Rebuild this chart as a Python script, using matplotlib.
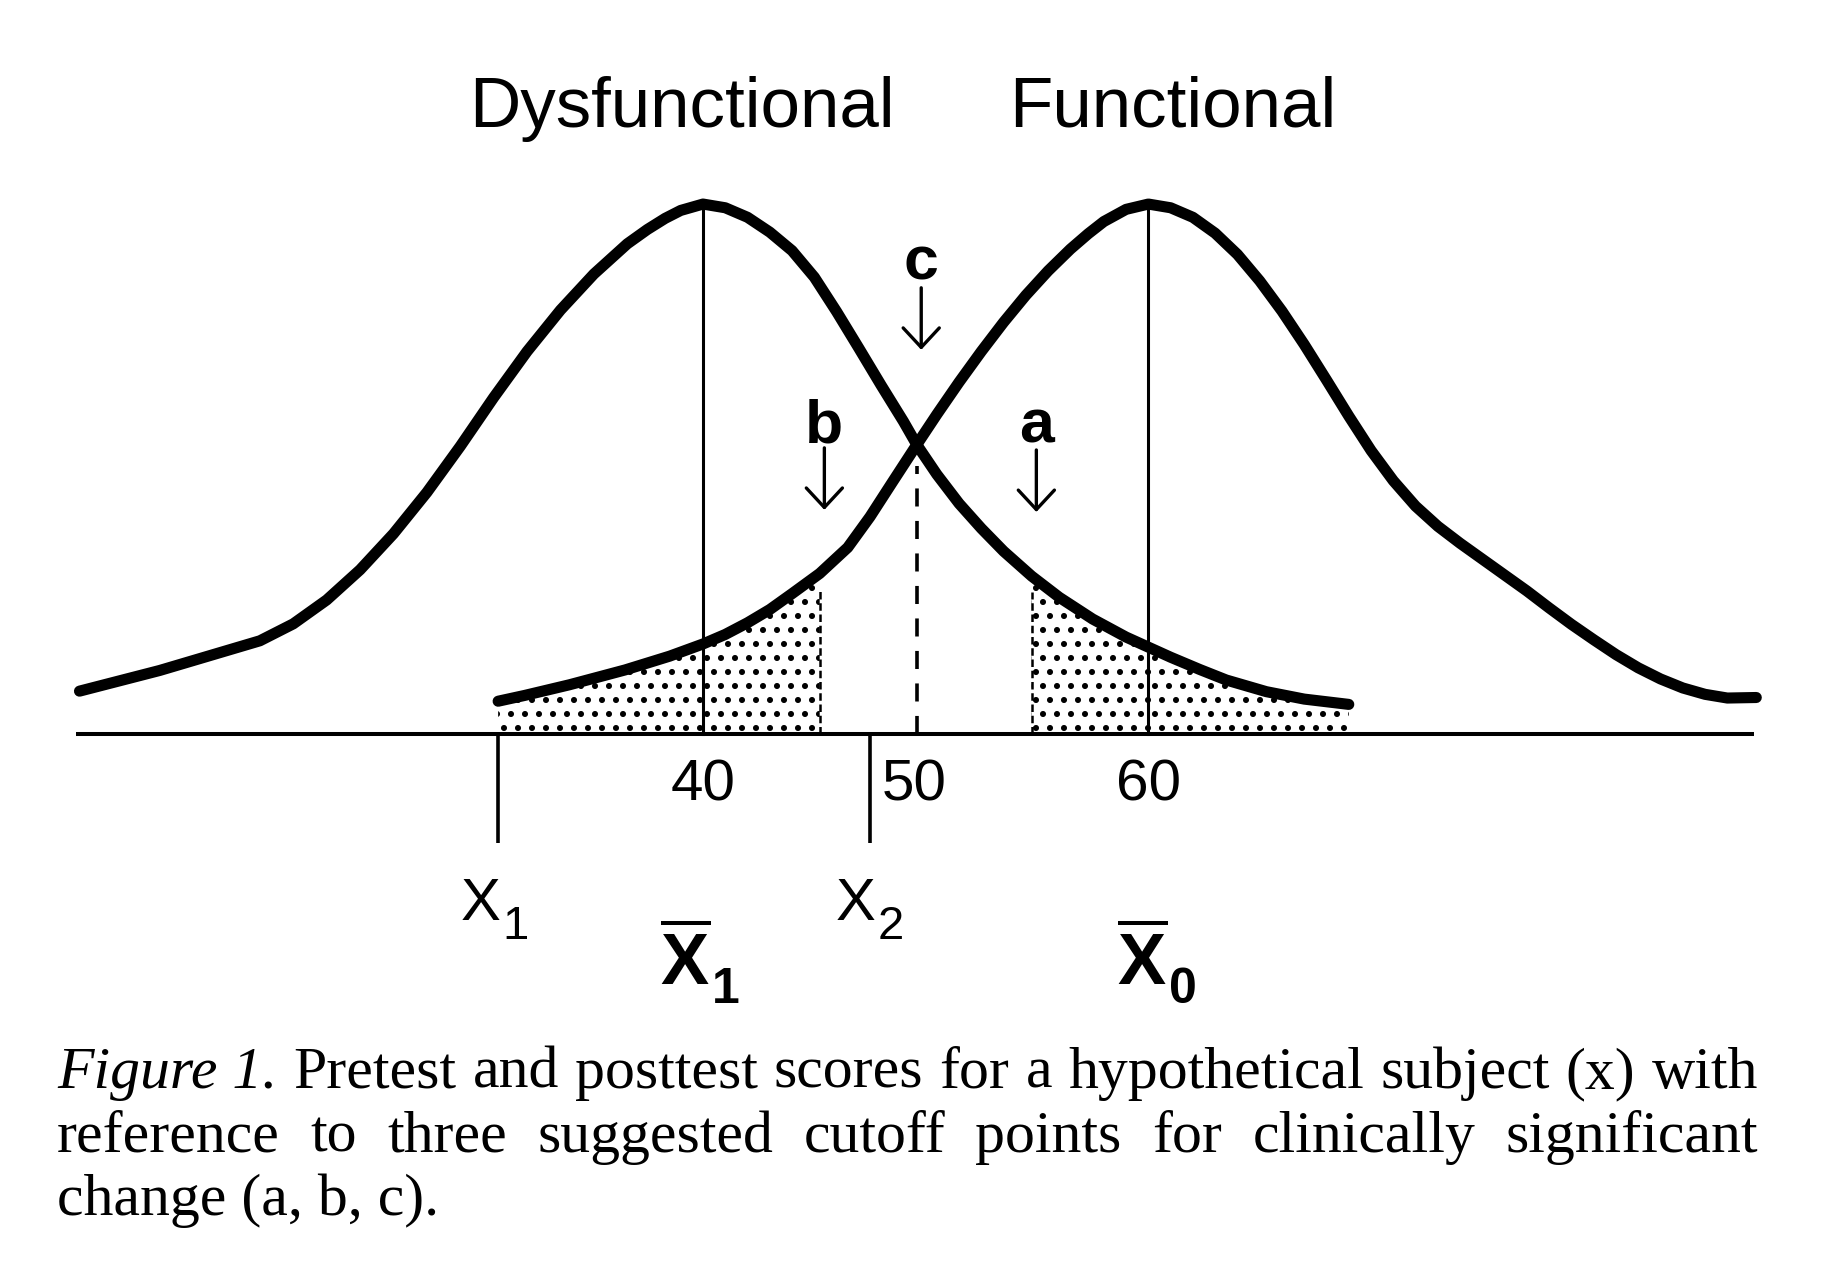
import numpy as np
import matplotlib
matplotlib.use("Agg")
import matplotlib.pyplot as plt

DPI = 84
S = 100 / DPI  # sizes below are tuned for 100 dpi, scale them

plt.rcParams['font.family'] = ['Liberation Sans', 'DejaVu Sans']
plt.rcParams['mathtext.fontset'] = 'custom'
plt.rcParams['mathtext.rm'] = 'Liberation Sans'
plt.rcParams['mathtext.bf'] = 'Liberation Sans:bold'
plt.rcParams['mathtext.it'] = 'Liberation Sans:italic'
plt.rcParams['hatch.linewidth'] = 2.3 * S

# curves (score, height relative to peak)
dys_x = [12.0, 15.6, 20.1, 21.6, 23.1, 24.6, 26.1, 27.6, 29.1, 30.6, 32.1, 33.6,
         35.1, 36.6, 37.5, 38.3, 39.0, 40.0, 41.0, 42.0, 43.0, 44.0, 45.0, 46.0,
         47.0, 48.0, 49.0, 49.6, 50.5, 51.5, 52.5, 53.5, 54.76, 56.0, 57.5, 59.0,
         60.0, 61.0, 62.3, 63.5, 65.3, 67.0, 69.0]
dys_y = [0.081, 0.120, 0.176, 0.208, 0.253, 0.310, 0.378, 0.456, 0.543, 0.635, 0.722, 0.800,
         0.868, 0.925, 0.952, 0.973, 0.988, 1.000, 0.993, 0.975, 0.947, 0.912, 0.862, 0.797,
         0.728, 0.658, 0.590, 0.546, 0.490, 0.435, 0.388, 0.345, 0.298, 0.258, 0.217, 0.183,
         0.164, 0.145, 0.122, 0.102, 0.080, 0.066, 0.056]

fun_x = [30.8, 32.0, 34.0, 36.5, 38.5, 40.0, 41.0, 42.0, 43.0, 44.0, 45.24, 46.5,
         47.5, 48.5, 49.6, 50.5, 51.5, 52.5, 53.5, 54.5, 55.5, 56.5, 57.3, 58.0,
         59.0, 60.0, 61.0, 62.0, 63.0, 64.0, 65.0, 66.0, 67.0, 68.0, 69.0, 70.0,
         71.0, 72.0, 73.0, 74.0, 75.0, 76.0, 77.0, 78.0, 79.0, 80.0, 81.0, 82.0,
         83.0, 84.0, 85.0, 86.0, 87.3]
fun_y = [0.062, 0.073, 0.093, 0.121, 0.147, 0.170, 0.188, 0.210, 0.235, 0.265, 0.303, 0.352,
         0.410, 0.475, 0.546, 0.603, 0.664, 0.722, 0.777, 0.828, 0.874, 0.915, 0.944, 0.967,
         0.990, 1.000, 0.993, 0.975, 0.945, 0.905, 0.855, 0.798, 0.735, 0.668, 0.600, 0.535,
         0.478, 0.430, 0.392, 0.360, 0.330, 0.300, 0.270, 0.238, 0.207, 0.178, 0.150, 0.125,
         0.104, 0.087, 0.075, 0.068, 0.069]

mean_dys = 40
mean_fun = 60
cut_a = 54.76
cut_b = 45.24
cut_c = 49.6
x1_score = 30.8
x2_score = 47.5
tick_vals = [40, 50, 60]
tick_pos = [40, 49.5, 60]

dys_x = np.array(dys_x); dys_y = np.array(dys_y)
fun_x = np.array(fun_x); fun_y = np.array(fun_y)

W, H = 1838, 1280
fig = plt.figure(figsize=(W / DPI, H / DPI), dpi=DPI)
ax = fig.add_axes([0, 0, 1, 1])
xmin, xmax = 8.43, 90.97
ymin, ymax = -1.030, 1.385
ax.set_xlim(xmin, xmax)
ax.set_ylim(ymin, ymax)
ax.axis('off')
px_x = W / (xmax - xmin)
px_y = H / (ymax - ymin)

# stippled tails
m = fun_x <= cut_b
ax.fill_between(fun_x[m], 0, fun_y[m], facecolor='none', edgecolor='black',
                hatch='.', linewidth=0, zorder=1)
m = dys_x >= cut_a
ax.fill_between(dys_x[m], 0, dys_y[m], facecolor='none', edgecolor='black',
                hatch='.', linewidth=0, zorder=1)
ax.plot([cut_b, cut_b], [0, fun_y[fun_x == cut_b][0] - 0.03], color='black', lw=1.8 * S,
        dashes=(3, 1.5), zorder=2)
ax.plot([cut_a, cut_a], [0, dys_y[dys_x == cut_a][0] - 0.03], color='black', lw=1.8 * S,
        dashes=(3, 1.5), zorder=2)

# baseline
ax.plot([11.85, 87.2], [0, 0], color='black', lw=2.9 * S, solid_capstyle='butt', zorder=3)

# mean lines
ax.plot([mean_dys, mean_dys], [0, 1.0], color='black', lw=2.2 * S, zorder=3)
ax.plot([mean_fun, mean_fun], [0, 1.0], color='black', lw=2.2 * S, zorder=3)

# cutoff c
ax.plot([cut_c, cut_c], [0, dys_y[dys_x == cut_c][0] - 0.04], color='black', lw=2.6 * S,
        dashes=(5, 4), zorder=3)

# X1, X2 markers
for xs in [x1_score, x2_score]:
    ax.plot([xs, xs], [0, -0.205], color='black', lw=2.6 * S, solid_capstyle='butt', zorder=3)

# curves
for cx, cy in [(dys_x, dys_y), (fun_x, fun_y)]:
    ax.plot(cx, cy, color='black', lw=8.0 * S, solid_capstyle='round',
            solid_joinstyle='round', zorder=4)

# titles
ax.text(39.06, 1.146, "Dysfunctional", fontsize=51 * S, ha='center', va='baseline')
ax.text(61.1, 1.146, "Functional", fontsize=51 * S, ha='center', va='baseline')

# cutoff arrows and letters
arrows = [("c", cut_c + 0.2, 0.857, 0.842, 0.725),
          ("b", 45.45, 0.551, 0.540, 0.423),
          ("a", 54.97, 0.551, 0.536, 0.419)]
for lab, xa, yl, y0, y1 in arrows:
    ax.text(xa, yl, lab, fontsize=45 * S, fontweight='bold', ha='center', va='baseline')
    ax.annotate('', xy=(xa, y1), xytext=(xa, y0),
                arrowprops=dict(arrowstyle='->,head_length=0.7,head_width=0.65',
                                lw=2.4 * S, color='black', shrinkA=0, shrinkB=0,
                                mutation_scale=20 * S))

# tick labels
for v, p in zip(tick_vals, tick_pos):
    ax.text(p, -0.126, str(v), fontsize=42 * S, ha='center', va='baseline')

renderer = fig.canvas.get_renderer()


def sub_label(x, y, main, sub, size, subsize, drop, weight):
    t = ax.text(x, y, main, fontsize=size * S, fontweight=weight, ha='left', va='baseline')
    w = t.get_window_extent(renderer).width
    ax.text(x + (w + 2) / px_x, y - drop / px_y, sub, fontsize=subsize * S,
            fontweight=weight, ha='left', va='baseline')


sub_label(29.13, -0.351, "X", "1", 43, 34, 19, 'normal')
sub_label(45.97, -0.351, "X", "2", 43, 34, 19, 'normal')
sub_label(38.07, -0.474, r'$\overline{\mathbf{X}}$', "1", 52, 36, 18, 'bold')
sub_label(58.6, -0.474, r'$\overline{\mathbf{X}}$', "0", 52, 36, 18, 'bold')

# caption, justified
cap_lines = [
    [("Figure 1.", True), ("Pretest", False), ("and", False), ("posttest", False),
     ("scores", False), ("for", False), ("a", False), ("hypothetical", False),
     ("subject", False), ("(x)", False), ("with", False)],
    [("reference", False), ("to", False), ("three", False), ("suggested", False),
     ("cutoff", False), ("points", False), ("for", False), ("clinically", False),
     ("significant", False)],
]
cap_last = "change (a, b, c)."
cap_base_px = [1088, 1152, 1215]
left_px, right_px = 57, 1758
cap_kw = dict(fontsize=43 * S, family=['Liberation Serif', 'DejaVu Serif'],
              va='baseline', ha='left')

for words, ypx in zip(cap_lines, cap_base_px):
    objs = []
    for w, it in words:
        objs.append(fig.text(0, 1 - ypx / H, w, style='italic' if it else 'normal', **cap_kw))
    widths = [o.get_window_extent(renderer).width for o in objs]
    gap = (right_px - left_px - sum(widths)) / (len(objs) - 1)
    xpos = left_px
    for o, wd in zip(objs, widths):
        o.set_x(xpos / W)
        xpos += wd + gap
fig.text(left_px / W, 1 - cap_base_px[2] / H, cap_last, **cap_kw)

fig.savefig("out.png", dpi=DPI)
